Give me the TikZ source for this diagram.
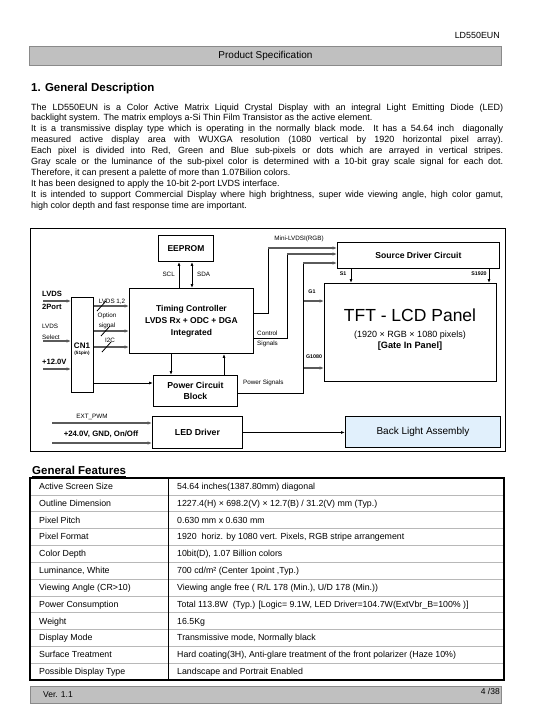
\documentclass[tikz,border=0pt]{standalone}
\usepackage{fontspec}
\setmainfont{Liberation Sans}
\usetikzlibrary{arrows.meta}
\newcommand{\fsz}[1]{\fontsize{#1}{#1}\selectfont}
\definecolor{hdrgray}{HTML}{C0C0C0}
\definecolor{hdrline}{HTML}{8A8A8A}
\definecolor{blfill}{HTML}{E1F0FC}
\definecolor{busgray}{HTML}{5A5A5A}
\definecolor{rowline}{HTML}{B8B8B8}
\begin{document}
\begin{tikzpicture}[x=1pt,y=-1pt,
  box/.style={draw=black, line width=0.9pt, inner sep=0pt, align=center, anchor=north west},
  txt/.style={inner sep=0pt},
  small/.style={txt, font=\fsz{6.3}},
  tiny/.style={txt, font=\bfseries\fsz{5.3}},
  conn/.style={draw=black, line width=0.8pt},
  arr/.style={conn, -{Latex[length=4pt,width=3pt]}},
  dblarr/.style={conn, {Latex[length=4pt,width=3pt]}-{Latex[length=4pt,width=3pt]}},
  bus/.style={draw=busgray, line width=1.5pt, -{Latex[length=4.5pt,width=3.6pt]}},
  para/.style={txt, anchor=base west, font=\fsz{9}},
  cell/.style={txt, anchor=base west, font=\fsz{8.8}}]
\fill[white] (0,0) rectangle (540,720);
\useasboundingbox (0,0) rectangle (540,720);

% ---------- header ----------
\node[txt, anchor=base east, font=\fsz{8.9}] (docid) at (500,38.5) {LD550EUN};
\node[draw=hdrline, fill=hdrgray, line width=0.9pt, minimum width=472pt, minimum height=19pt, anchor=north west, inner sep=0pt, font=\fsz{10}] (hdr) at (29,46) {Product Specification};

\node[txt, anchor=base west, font=\bfseries\fsz{11.5}] (h1) at (31,91) {1. General Description};

% ---------- paragraph ----------
\node[para] (p1) at (31,110) {\makebox[472pt][s]{The LD550EUN is a Color Active Matrix Liquid Crystal Display with an integral Light Emitting Diode (LED)}};
\node[para] (p2) at (31,120.9) {backlight system. The matrix employs a-Si Thin Film Transistor as the active element.};
\node[para] (p3) at (31,131.8) {\makebox[472pt][s]{It is a transmissive display type which is operating in the normally black mode. It has a 54.64 inch \ diagonally}};
\node[para] (p4) at (31,142.7) {\makebox[472pt][s]{measured active display area with WUXGA resolution (1080 vertical by 1920 horizontal pixel array).}};
\node[para] (p5) at (31,153.6) {\makebox[472pt][s]{Each pixel is divided into Red, Green and Blue sub-pixels or dots which are arrayed in vertical stripes.}};
\node[para] (p6) at (31,164.5) {\makebox[472pt][s]{Gray scale or the luminance of the sub-pixel color is determined with a 10-bit gray scale signal for each dot.}};
\node[para] (p7) at (31,175.4) {Therefore, it can present a palette of more than 1.07Bilion colors.};
\node[para] (p8) at (31,186.3) {It has been designed to apply the 10-bit 2-port LVDS interface.};
\node[para] (p9) at (31,197.2) {\makebox[472pt][s]{It is intended to support Commercial Display where high brightness, super wide viewing angle, high color gamut,}};
\node[para] (p10) at (31,208.1) {high color depth and fast response time are important.};

% ---------- block diagram ----------
\draw[line width=1pt] (30,228) rectangle (505,451);

\node[box, minimum width=55pt, minimum height=26pt, font=\bfseries\fsz{8.5}] (eeprom) at (158,235) {EEPROM};
\node[box, minimum width=124pt, minimum height=65pt, font=\bfseries\fontsize{8.5}{12}\selectfont] (tc) at (129,288) {Timing Controller\\LVDS Rx + ODC + DGA\\Integrated};
\node[box, minimum width=22pt, minimum height=95pt] (cn1) at (71,297) {};
\node[txt, font=\bfseries\fsz{8}] (cn1lbl) at (82,346) {CN1};
\node[txt, font=\bfseries\fsz{4.6}] (cn1pin) at (82,353) {(51pin)};
\node[box, minimum width=84pt, minimum height=31pt, font=\bfseries\fontsize{8.7}{10.5}\selectfont] (pcb) at (153,375) {Power Circuit\\Block};
\node[box, minimum width=90pt, minimum height=32pt, font=\bfseries\fsz{8.7}] (led) at (152,416) {LED Driver};
\node[box, minimum width=162pt, minimum height=26pt, font=\bfseries\fsz{8.6}] (src) at (337,242) {Source Driver Circuit};
\node[box, minimum width=172pt, minimum height=98pt] (tft) at (324,283) {};
\node[txt, font=\fsz{17.5}] (tfttitle) at (410,315) {TFT - LCD Panel};
\node[txt, font=\fsz{9}] (tftres) at (410,335) {(1920 × RGB × 1080 pixels)};
\node[txt, font=\bfseries\fsz{9.2}] (tftgip) at (410,346) {[Gate In Panel]};
\node[box, fill=blfill, minimum width=155pt, minimum height=31pt, font=\fsz{10}] (bl) at (345,416) {Back Light Assembly};

% EEPROM links
\draw[arr] (tc.north -| 179,0) -- (eeprom.south -| 179,0);
\draw[dblarr] (tc.north -| 192,0) -- (eeprom.south -| 192,0);
\node[small, anchor=east] (scl) at (175,274) {SCL};
\node[small, anchor=west] (sda) at (197,274) {SDA};

% inputs to CN1
\coordinate (inlvds) at (43,301);
\coordinate (insel) at (43,341);
\coordinate (in12) at (43,369);
\draw[bus] (inlvds) -- (cn1.west |- inlvds);
\draw[bus] (insel) -- (cn1.west |- insel);
\draw[bus] (in12) -- (cn1.west |- in12);
\node[txt, anchor=west, font=\bfseries\fsz{7.6}] (l2p1) at (42,294) {LVDS};
\node[txt, anchor=west, font=\bfseries\fsz{7.6}] (l2p2) at (42,307) {2Port};
\node[small, anchor=west] (ls1) at (42,326) {LVDS};
\node[small, anchor=west] (ls2) at (42,337) {Select};
\node[txt, anchor=west, font=\bfseries\fsz{7.6}] (v12) at (42,362) {+12.0V};

% CN1 to timing controller buses
\draw[bus] (cn1.east |- 0,306) -- (tc.west |- 0,306);
\draw[bus] (cn1.east |- 0,331) -- (tc.west |- 0,331);
\draw[bus] (cn1.east |- 0,347) -- (tc.west |- 0,347);
\draw[conn] (97,311) -- (106,301);
\draw[conn] (101,336) -- (110,326);
\draw[conn] (102,352) -- (111,342);
\node[small] (bl12) at (112,302) {LVDS 1,2};
\node[small] (bopt1) at (107,316) {Option};
\node[small] (bopt2) at (107,326) {signal};
\node[small] (bi2c) at (110,340) {I2C};

% CN1 to power circuit
\draw[arr] (cn1.east |- 0,383) -- (pcb.west |- 0,383);
% TC <-> power circuit
\draw[arr] (tc.south -| 171,0) -- (pcb.north -| 171,0);
\draw[arr] (pcb.north -| 224,0) -- (tc.south -| 224,0);

% TC to source driver
\coordinate (mlc) at (268,248);
\coordinate (ctc) at (287,254);
\coordinate (pwc) at (303,263);
\draw[conn] (tc.east |- 0,313) -| (mlc);
\draw[bus] (mlc) -- (src.west |- mlc);
\draw[conn] (tc.east |- 0,338) -| (ctc);
\draw[bus] (ctc) -- (src.west |- ctc);
\draw[conn] (pcb.east |- 0,393) -| (pwc);
\draw[bus] (pwc) -- (src.west |- pwc);
\node[small] (mlvds) at (299,239) {Mini-LVDSI(RGB)};
\node[small, anchor=west] (ctl1) at (257,333) {Control};
\node[small, anchor=west] (ctl2) at (257,344) {Signals};
\node[small, anchor=west] (pws) at (243,383) {Power Signals};

% gate inputs
\coordinate (g1s) at (304,301);
\coordinate (g1080s) at (304,368);
\draw[bus] (g1s) -- (tft.west |- g1s);
\draw[bus] (g1080s) -- (tft.west |- g1080s);
\node[tiny] (g1l) at (312,292) {G1};
\node[tiny] (g1080l) at (314,357) {G1080};

% source outputs
\draw[arr] (src.south -| 351,0) -- (tft.north -| 351,0);
\draw[arr] (src.south -| 489,0) -- (tft.north -| 489,0);
\node[tiny] (s1l) at (343,274) {S1};
\node[tiny] (s1920l) at (479,274) {S1920};

% LED driver
\coordinate (inpwm) at (52,423);
\coordinate (in24) at (52,443);
\draw[bus] (inpwm) -- (led.west |- inpwm);
\draw[bus] (in24) -- (led.west |- in24);
\node[small] (pwm) at (92,417) {EXT\_PWM};
\node[txt, font=\bfseries\fsz{7.8}] (v24) at (101,434) {+24.0V, GND, On/Off};
\draw[arr] (led.east) -- (bl.west |- led.east);

% ---------- general features ----------
\node[txt, anchor=base west, font=\bfseries\fsz{11.5}] (gf) at (32,474.8) {General Features};
\draw[line width=0.9pt] ([yshift=-1.6pt]gf.base west) -- ([yshift=-1.6pt]gf.base east);

\foreach \i in {1,...,11} {
  \draw[rowline, line width=0.6pt] (30,478+\i*16.833) -- (504,478+\i*16.833);
}
\draw[line width=0.9pt] (168,478) -- (168,680);
\draw[line width=1.2pt] (30,478) rectangle (504,680);

\node[cell] (r1a) at (39,489.4) {Active Screen Size};
\node[cell] (r1b) at (177,489.4) {54.64 inches(1387.80mm) diagonal};
\node[cell] (r2a) at (39,506.2) {Outline Dimension};
\node[cell] (r2b) at (177,506.2) {1227.4(H) × 698.2(V) × 12.7(B) / 31.2(V) mm (Typ.)};
\node[cell] (r3a) at (39,523.1) {Pixel Pitch};
\node[cell] (r3b) at (177,523.1) {0.630 mm x 0.630 mm};
\node[cell] (r4a) at (39,539.9) {Pixel Format};
\node[cell] (r4b) at (177,539.9) {1920 \ horiz. by 1080 vert. Pixels, RGB stripe arrangement};
\node[cell] (r5a) at (39,556.7) {Color Depth};
\node[cell] (r5b) at (177,556.7) {10bit(D), 1.07 Billion colors};
\node[cell] (r6a) at (39,573.6) {Luminance, White};
\node[cell] (r6b) at (177,573.6) {700 cd/m² (Center 1point ,Typ.)};
\node[cell] (r7a) at (39,590.4) {Viewing Angle (CR>10)};
\node[cell] (r7b) at (177,590.4) {Viewing angle free ( R/L 178 (Min.), U/D 178 (Min.))};
\node[cell] (r8a) at (39,607.2) {Power Consumption};
\node[cell] (r8b) at (177,607.2) {Total 113.8W \ (Typ.) [Logic= 9.1W, LED Driver=104.7W(ExtVbr\_B=100\% )]};
\node[cell] (r9a) at (39,624.1) {Weight};
\node[cell] (r9b) at (177,624.1) {16.5Kg};
\node[cell] (r10a) at (39,640.9) {Display Mode};
\node[cell] (r10b) at (177,640.9) {Transmissive mode, Normally black};
\node[cell] (r11a) at (39,657.7) {Surface Treatment};
\node[cell] (r11b) at (177,657.7) {Hard coating(3H), Anti-glare treatment of the front polarizer (Haze 10\%)};
\node[cell] (r12a) at (39,674.6) {Possible Display Type};
\node[cell] (r12b) at (177,674.6) {Landscape and Portrait Enabled};

% ---------- footer ----------
\draw[hdrline, fill=hdrgray, line width=0.9pt] (30,686) rectangle (501,703);
\node[txt, anchor=base west, font=\fsz{8.5}] (ver) at (43,697) {Ver. 1.1};
\node[txt, anchor=base east, font=\fsz{8.5}] (pg) at (500,694) {4 /38};
\end{tikzpicture}
\end{document}
